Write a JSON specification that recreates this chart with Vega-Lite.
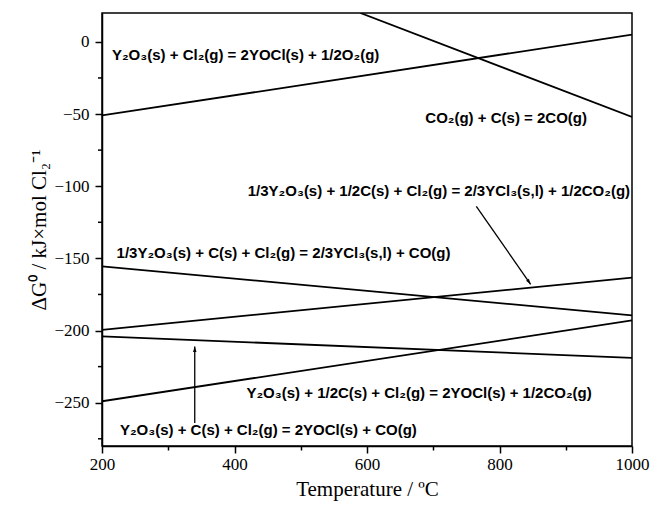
{
  "$schema": "https://vega.github.io/schema/vega-lite/v6.json",
  "width": 530,
  "height": 433,
  "autosize": {"type": "none"},
  "padding": {"left": 102, "top": 13, "right": 24, "bottom": 62},
  "background": "white",
  "config": {
    "view": {"stroke": "black", "strokeWidth": 1.5},
    "axis": {
      "domainColor": "black", "tickColor": "black", "labelColor": "black", "titleColor": "black",
      "grid": false, "labelFont": "Liberation Serif", "titleFont": "Liberation Serif",
      "labelFontSize": 17, "titleFontSize": 21, "titleFontWeight": "normal",
      "domainWidth": 1.5, "tickWidth": 1.5
    }
  },
  "datasets": {
    "lines": [
      {"series": "YOCl_O2", "T": 200, "G": -51},
      {"series": "YOCl_O2", "T": 1000, "G": 5},
      {"series": "Boudouard", "T": 590, "G": 20},
      {"series": "Boudouard", "T": 1000, "G": -52},
      {"series": "YCl3_CO", "T": 200, "G": -155.5},
      {"series": "YCl3_CO", "T": 1000, "G": -189.5},
      {"series": "YCl3_CO2", "T": 200, "G": -199.5},
      {"series": "YCl3_CO2", "T": 1000, "G": -163.3},
      {"series": "YOCl_CO", "T": 200, "G": -204},
      {"series": "YOCl_CO", "T": 1000, "G": -219},
      {"series": "YOCl_CO2", "T": 200, "G": -249},
      {"series": "YOCl_CO2", "T": 1000, "G": -193}
    ],
    "labels": [
      {"label": "Y₂O₃(s) + Cl₂(g) = 2YOCl(s) + 1/2O₂(g)", "T": 215, "G": -9},
      {"label": "CO₂(g) + C(s) = 2CO(g)", "T": 688, "G": -53},
      {"label": "1/3Y₂O₃(s) + 1/2C(s) + Cl₂(g) = 2/3YCl₃(s,l) + 1/2CO₂(g)", "T": 420, "G": -103},
      {"label": "1/3Y₂O₃(s) + C(s) + Cl₂(g) = 2/3YCl₃(s,l) + CO(g)", "T": 222, "G": -146},
      {"label": "Y₂O₃(s) + 1/2C(s) + Cl₂(g) = 2YOCl(s) + 1/2CO₂(g)", "T": 418, "G": -243},
      {"label": "Y₂O₃(s) + C(s) + Cl₂(g) = 2YOCl(s) + CO(g)", "T": 227, "G": -269}
    ],
    "arrows": [
      {"T": 765, "G": -114, "T2": 847, "G2": -168, "angle": 145},
      {"T": 340, "G": -264, "T2": 340, "G2": -211, "angle": 0}
    ],
    "minorY": [
      {"G": -275}, {"G": -225}, {"G": -175}, {"G": -125}, {"G": -75}, {"G": -25}
    ]
  },
  "layer": [
    {
      "data": {"name": "lines"},
      "mark": {"type": "line", "color": "black", "strokeWidth": 1.8, "clip": true},
      "encoding": {
        "x": {"field": "T", "type": "quantitative", "scale": {"domain": [200, 1000], "nice": false},
              "axis": {"title": "Temperature / ºC", "values": [200, 300, 400, 500, 600, 700, 800, 900, 1000],
                       "labelExpr": "datum.value % 200 === 0 ? '' + datum.value : ''",
                       "tickSize": {"condition": {"test": "datum.value % 200 === 0", "value": 7}, "value": 4},
                       "labelPadding": 3, "titlePadding": 6, "labelFlush": false}},
        "y": {"field": "G", "type": "quantitative", "scale": {"domain": [-280, 20], "nice": false, "zero": false},
              "axis": {"title": "ΔG⁰ / kJ×mol Cl₂⁻¹", "values": [-250, -200, -150, -100, -50, 0],
                       "tickSize": 7, "labelPadding": 6, "titlePadding": 4}},
        "detail": {"field": "series"}
      }
    },
    {
      "data": {"name": "minorY"},
      "mark": {"type": "tick", "orient": "horizontal", "size": 4, "thickness": 1.5, "xOffset": -2, "color": "black", "clip": false, "opacity": 1},
      "encoding": {
        "x": {"datum": 200, "type": "quantitative"},
        "y": {"field": "G", "type": "quantitative"}
      }
    },
    {
      "data": {"name": "arrows"},
      "mark": {"type": "rule", "color": "black", "strokeWidth": 1.3},
      "encoding": {
        "x": {"field": "T", "type": "quantitative"},
        "y": {"field": "G", "type": "quantitative"},
        "x2": {"field": "T2"},
        "y2": {"field": "G2"}
      }
    },
    {
      "data": {"name": "arrows"},
      "mark": {"type": "point", "shape": "M0,0L-0.32,1L0.32,1Z", "filled": true, "color": "black", "opacity": 1, "size": 120},
      "encoding": {
        "x": {"field": "T2", "type": "quantitative"},
        "y": {"field": "G2", "type": "quantitative"},
        "angle": {"field": "angle", "type": "quantitative", "scale": null}
      }
    },
    {
      "data": {"name": "labels"},
      "mark": {"type": "text", "align": "left", "baseline": "middle", "font": "Liberation Sans", "fontWeight": "bold", "fontSize": 15, "color": "black"},
      "encoding": {
        "x": {"field": "T", "type": "quantitative"},
        "y": {"field": "G", "type": "quantitative"},
        "text": {"field": "label"}
      }
    }
  ]
}
